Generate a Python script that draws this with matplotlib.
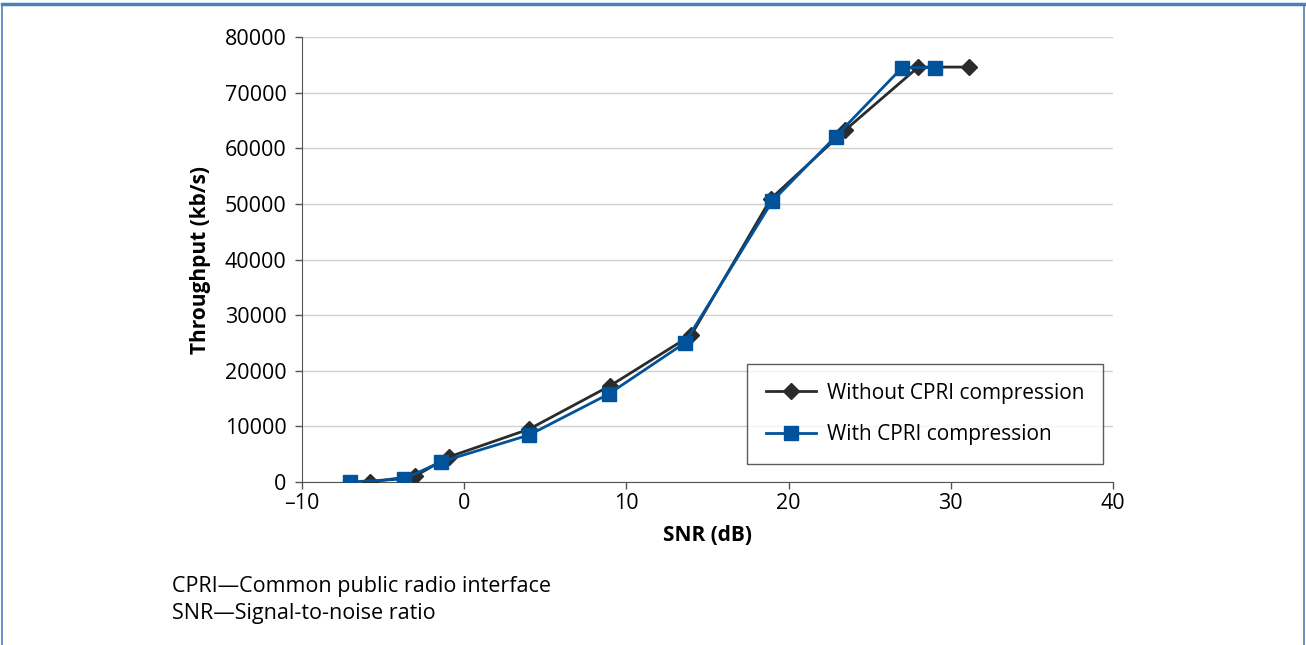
import matplotlib
matplotlib.use("Agg")
import matplotlib.pyplot as plt
from matplotlib.lines import Line2D
from matplotlib.patches import Rectangle

# SNR (dB) vs throughput (kb/s)
snr_without = [-5.8, -3.0, -0.95, 4.0, 9.0, 14.0, 18.9, 23.5, 28.0, 31.1]
tput_without = [0, 1100, 4500, 9500, 17300, 26400, 50900, 63300, 74600, 74600]

snr_with = [-7.05, -3.7, -1.45, 4.0, 8.9, 13.6, 19.0, 22.9, 27.0, 29.0]
tput_with = [0, 550, 3600, 8450, 15800, 25000, 50500, 62100, 74500, 74500]

x_ticks = [-10, 0, 10, 20, 30, 40]
y_ticks = [0, 10000, 20000, 30000, 40000, 50000, 60000, 70000, 80000]

plt.rcParams['font.family'] = ['Open Sans', 'DejaVu Sans']

fig = plt.figure(figsize=(13.06, 6.45), dpi=100)
ax = fig.add_axes([0.2312, 0.2527, 0.6210, 0.6899])

ax.plot(snr_without, tput_without, color='#2b2b2b', lw=2, marker='D',
        markersize=8, label='Without CPRI compression', zorder=3)
ax.plot(snr_with, tput_with, color='#00539b', lw=2, marker='s',
        markersize=10, label='With CPRI compression', zorder=4)

ax.set_xlim(-10, 40)
ax.set_ylim(0, 80000)
ax.set_xticks(x_ticks)
ax.set_xticklabels([f"\u2013{abs(t)}" if t < 0 else str(t) for t in x_ticks])
ax.set_yticks(y_ticks)
ax.set_yticklabels([str(t) for t in y_ticks])
ax.tick_params(labelsize=15.5, length=5, color='#555555', width=1)
ax.tick_params(axis='x', pad=3)
ax.tick_params(axis='y', pad=6)

ax.grid(axis='y', color='#d0d0d0', lw=1)
ax.set_axisbelow(True)
for s in ['top', 'right']:
    ax.spines[s].set_visible(False)
ax.spines['left'].set_color('#555555')
ax.spines['bottom'].set_color('#555555')

ax.set_xlabel('SNR (dB)', fontsize=15, fontweight='bold', labelpad=8)
ax.set_ylabel('Throughput (kb/s)', fontsize=15, fontweight='bold', labelpad=10)

leg = ax.legend(loc='lower right', bbox_to_anchor=(0.988, 0.04), fontsize=15,
                frameon=True, fancybox=False, edgecolor='#333333',
                borderpad=0.9, labelspacing=1.0, handlelength=2.4,
                handletextpad=0.55, borderaxespad=0)
leg.get_frame().set_linewidth(1)

fig.text(0.1317, 0.082, 'CPRI\u2014Common public radio interface', fontsize=15.5)
fig.text(0.1317, 0.041, 'SNR\u2014Signal-to-noise ratio', fontsize=15.5)

# blue frame around the figure
fig.patches.append(Rectangle((0.0015, -0.01), 0.997, 1.003, transform=fig.transFigure,
                             fill=False, edgecolor='#4a80b8', lw=1.2))
fig.add_artist(Line2D([0.0015, 0.9985], [0.9935, 0.9935], transform=fig.transFigure,
                      color='#4a80b8', lw=2.5))

fig.savefig('out.png', dpi=100)
